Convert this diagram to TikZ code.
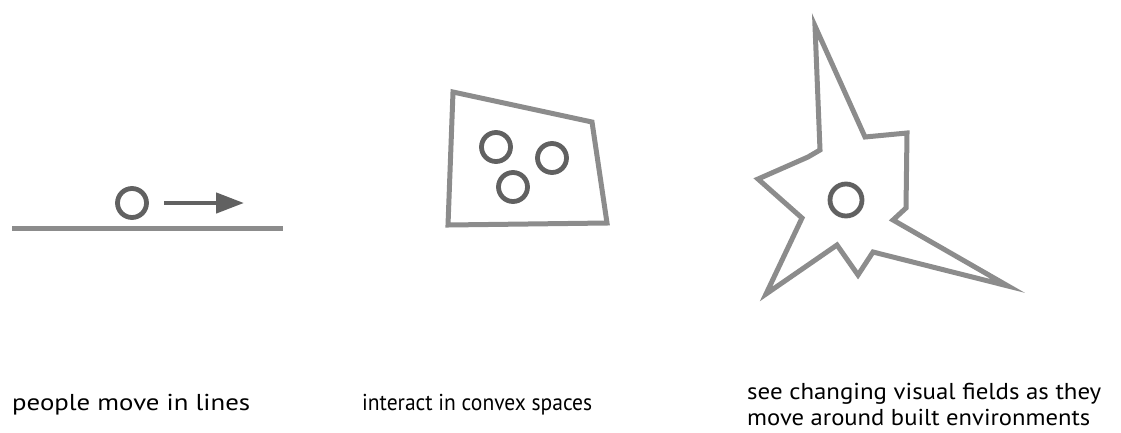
\documentclass[tikz,border=0pt]{standalone}
\usepackage{fontspec}
\usepackage{graphicx}
\setmainfont{PT Sans}
\usetikzlibrary{arrows.meta}
\newcommand{\capline}[2]{\resizebox{#1pt}{\height}{#2}}
\begin{document}
\begin{tikzpicture}[x=1pt,y=-1pt,
  wall/.style={draw=black!45, line width=5pt, line join=miter},
  person/.style={circle, draw=black!62, line width=4.8pt, minimum size=29pt, inner sep=0pt},
  caption/.style={anchor=west, align=left, inner sep=0pt, font=\fontsize{23}{26}\selectfont, text=black}]
\useasboundingbox (0,0) rectangle (1121,432);
% panel 1
\coordinate (l1) at (12,228);
\coordinate (l2) at (283,228);
\draw[wall] (l1) -- (l2);
\node[person] (p1) at (132,203) {};
\coordinate (a1) at (164,203);
\coordinate (a2) at (244,203);
\draw[draw=black!62, line width=4.5pt, -{Triangle[length=28pt,width=20pt]}] (a1) -- (a2);
% panel 2
\draw[wall] (453,92) -- (592,122) -- (607,223) -- (448,225) -- cycle;
\node[person] (p2) at (496,147) {};
\node[person] (p3) at (552,158) {};
\node[person] (p4) at (513,187) {};
% panel 3
\draw[wall, miter limit=20] (815,26) -- (865,137) -- (907,133) -- (906,208) -- (893,220) -- (1008,286)
  -- (873,252) -- (858,275) -- (837,245) -- (766,294) -- (802,218) -- (758,179)
  -- (808,157) -- (820,150) -- cycle;
\node[person, minimum size=32pt] (p5) at (846,200) {};
% captions
\node[caption] (t1) at (12,405) {\capline{238}{people move in lines}};
\node[caption] (t2) at (362,405) {\capline{230}{interact in convex spaces}};
\node[caption] (t3) at (747,404) {\capline{354}{see changing visual fields as they}\\\capline{343}{move around built environments}};
\end{tikzpicture}
\end{document}
